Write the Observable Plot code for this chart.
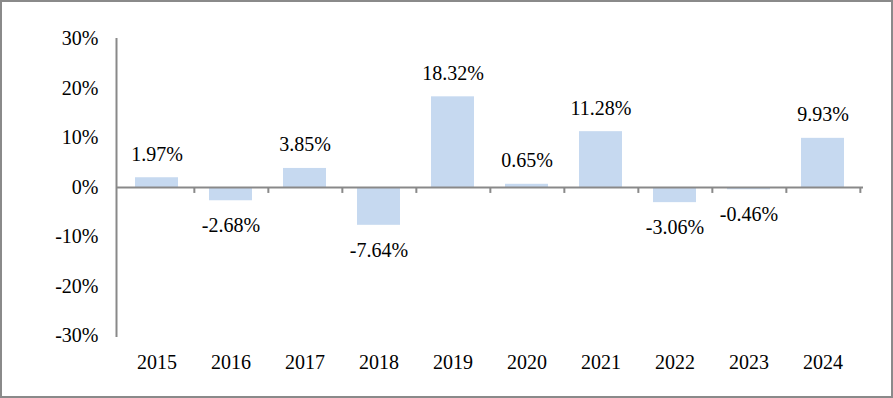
<!DOCTYPE html>
<html>
<head>
<meta charset="utf-8">
<script src="https://cdn.jsdelivr.net/npm/d3@7"></script>
<script src="https://cdn.jsdelivr.net/npm/@observablehq/plot@0.6"></script>
<style>
  html, body { margin: 0; padding: 0; background: #fff; }
  #chart svg { display: block; border: 2px solid #8a8a8a; background: #fff; }
</style>
</head>
<body>
<div id="chart"></div>
<script>
const years = ["2015","2016","2017","2018","2019","2020","2021","2022","2023","2024"];
const returns = [0.0197, -0.0268, 0.0385, -0.0764, 0.1832, 0.0065, 0.1128, -0.0306, -0.0046, 0.0993];
const yTicks = [-0.3, -0.2, -0.1, 0, 0.1, 0.2, 0.3];

const data = years.map((y, i) => ({year: y, value: returns[i]}));

const W = 889, H = 394;
const mL = 114, mR = 28, mT = 36.5, mB = 60.5;
const step = (W - mL - mR) / years.length;
const font = "'Liberation Serif', 'Times New Roman', serif";
const axisGray = "#898989";
const locale = d3.formatLocale({decimal: ".", thousands: ",", grouping: [3], currency: ["$", ""], minus: "-"});
const pct0 = locale.format(".0%");
const pct2 = locale.format(".2%");
const fs = 20;

const chart = Plot.plot({
  width: W,
  height: H,
  marginLeft: mL,
  marginRight: mR,
  marginTop: mT,
  marginBottom: mB,
  style: {fontFamily: font, fontSize: fs + "px", color: "#000", background: "#fff"},
  x: {domain: years, paddingInner: 0.42, paddingOuter: 0.21, label: null},
  y: {domain: [-0.3, 0.3], label: null},
  marks: [
    Plot.barY(data, {x: "year", y: "value", fill: "#c6d9f0"}),
    Plot.ruleY([0], {stroke: axisGray, strokeWidth: 2}),
    Plot.ruleX(years, {x: d => d, y1: 0, y2: -0.012, dx: step / 2, stroke: axisGray, strokeWidth: 2}),
    Plot.frame({anchor: "left", stroke: axisGray, strokeWidth: 2}),
    Plot.axisY({ticks: yTicks, tickFormat: pct0, tickSize: 0, tickPadding: 18, fontSize: fs, fill: "#000"}),
    Plot.axisX({tickSize: 0, tickPadding: 19, fontSize: fs, fill: "#000"}),
    Plot.text(data.filter(d => d.value >= 0), {
      x: "year", y: "value", text: d => pct2(d.value),
      lineAnchor: "bottom", dy: -17, fontSize: fs, fill: "#000"
    }),
    Plot.text(data.filter(d => d.value < 0), {
      x: "year", y: "value", text: d => pct2(d.value),
      lineAnchor: "top", dy: 17, fontSize: fs, fill: "#000"
    })
  ]
});
document.getElementById("chart").append(chart);
</script>
</body>
</html>
